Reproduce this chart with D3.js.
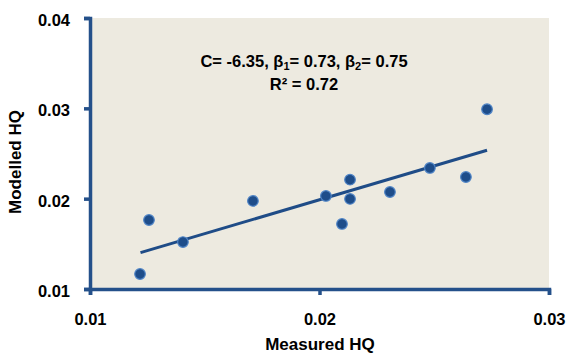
<!DOCTYPE html>
<html>
<head>
<meta charset="utf-8">
<script src="https://cdn.jsdelivr.net/npm/d3@7"></script>
<style>
  body { margin: 0; background: #fff; }
  text { font-family: "Liberation Sans", Arial, sans-serif; font-weight: bold; fill: #000; }
</style>
</head>
<body>
<div id="chart"></div>
<script>
// data
const measured = [0.01218, 0.01257, 0.01405, 0.0171, 0.02028, 0.02133, 0.02133, 0.02098, 0.02307, 0.02481, 0.02638, 0.0273];
const modelled = [0.01166, 0.01764, 0.0152, 0.01975, 0.0203, 0.0221, 0.01997, 0.0172, 0.02074, 0.0234, 0.0224, 0.0299];
const trendX = [0.0122, 0.0273];
const trendY = [0.01402, 0.02536];
const xTicks = [0.01, 0.02, 0.03];
const yTicks = [0.01, 0.02, 0.03, 0.04];
const noteLines = ['C= -6.35, β', '1', '= 0.73, β', '2', '= 0.75'];

const width = 567, height = 354;
const plotLeft = 90, plotRight = 549, plotTop = 18, plotBottom = 289;
const axisColor = '#24508A';

const svg = d3.select('#chart').append('svg')
  .attr('width', width)
  .attr('height', height);

const x = d3.scaleLinear().domain([0.01, 0.03]).range([plotLeft, plotRight]);
const y = d3.scaleLinear().domain([0.01, 0.04]).range([plotBottom, plotTop]);

svg.append('rect')
  .attr('x', plotLeft).attr('y', plotTop)
  .attr('width', plotRight - plotLeft).attr('height', plotBottom - plotTop)
  .attr('fill', '#EDEAE0');

// axes
const xAxis = svg.append('g')
  .attr('transform', `translate(0, ${plotBottom})`)
  .call(d3.axisBottom(x).tickValues(xTicks).tickSize(6).tickPadding(14).tickFormat(d3.format('.2f')));
const yAxis = svg.append('g')
  .attr('transform', `translate(${plotLeft}, 0)`)
  .call(d3.axisLeft(y).tickValues(yTicks).tickSize(6).tickPadding(14).tickFormat(d3.format('.2f')));

[xAxis, yAxis].forEach(g => {
  g.select('.domain').attr('stroke', axisColor).attr('stroke-width', 3.5);
  g.selectAll('.tick line').attr('stroke', axisColor).attr('stroke-width', 3.5);
  g.selectAll('.tick text').style('font-size', '16.5px').attr('fill', '#000');
});
xAxis.selectAll('.tick text').attr('dy', '0.95em');
yAxis.selectAll('.tick text').attr('dy', '0.45em');

// trend line
svg.append('line')
  .attr('x1', x(trendX[0])).attr('y1', y(trendY[0]))
  .attr('x2', x(trendX[1])).attr('y2', y(trendY[1]))
  .attr('stroke', '#1F4C87')
  .attr('stroke-width', 3);

// points
svg.selectAll('circle.pt')
  .data(measured.map((m, i) => [m, modelled[i]]))
  .enter()
  .append('circle')
  .attr('class', 'pt')
  .attr('cx', d => x(d[0]))
  .attr('cy', d => y(d[1]))
  .attr('r', 5.3)
  .attr('fill', '#1E4D8A')
  .attr('stroke', '#4F84C6')
  .attr('stroke-width', 1.2);

// annotation
const note = svg.append('text')
  .attr('x', 304).attr('y', 67)
  .attr('text-anchor', 'middle')
  .style('font-size', '16.5px');
noteLines.forEach((t, i) => {
  const ts = note.append('tspan').text(t);
  if (i % 2 === 1) ts.attr('baseline-shift', '-25%').style('font-size', '11px');
});
svg.append('text')
  .attr('x', 304).attr('y', 90)
  .attr('text-anchor', 'middle')
  .style('font-size', '16.5px')
  .text('R² = 0.72');

// axis titles
svg.append('text')
  .attr('x', 320).attr('y', 350)
  .attr('text-anchor', 'middle')
  .style('font-size', '17px')
  .text('Measured HQ');
svg.append('text')
  .attr('transform', 'translate(21, 162) rotate(-90)')
  .attr('text-anchor', 'middle')
  .style('font-size', '17px')
  .text('Modelled HQ');
</script>
</body>
</html>
